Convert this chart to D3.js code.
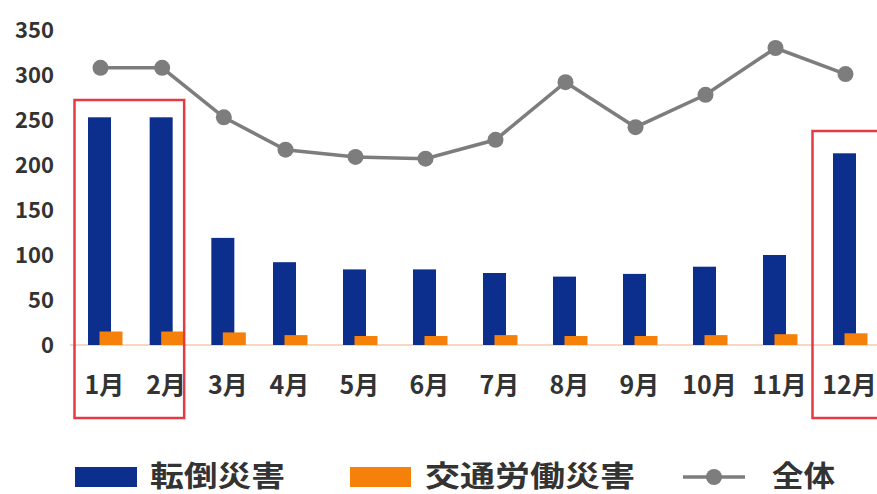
<!DOCTYPE html>
<head>
  <meta charset="utf-8">
  <title>転倒災害</title>
  <script src="https://cdn.jsdelivr.net/npm/d3@7"></script>
  <style>
    body { margin: 0; background: #fff; }
    text { font-family: "Noto Sans CJK JP", "Noto Sans", sans-serif; }
  </style>
</head>
<body>
<script>
    var months = ["1月","2月","3月","4月","5月","6月","7月","8月","9月","10月","11月","12月"];
    var tentou = [253, 253, 119, 92, 84, 84, 80, 76, 79, 87, 100, 213];
    var koutsuu = [15, 15, 14, 11, 10, 10, 11, 10, 10, 11, 12, 13];
    var zentai = [308, 308, 253, 217, 209, 207, 228, 292, 242, 278, 330, 301];
    var yTicks = [0, 50, 100, 150, 200, 250, 300, 350];
    var legendNames = ["転倒災害", "交通労働災害", "全体"];
    var boxGroups = [["1月","2月"], ["12月"]];

    var blue = "#0c2f8e", orange = "#f5800a", grey = "#7d7d7d", red = "#e33a44";

    var svg = d3.select("body").append("svg")
        .attr("width", 877).attr("height", 494);

    // the source image is slightly stretched, so month centres are piecewise
    var xi = d3.scaleLinear().domain([0, 3, 11]).range([99.5, 284.5, 844.5]);
    var x = m => xi(months.indexOf(m));
    var y = d3.scaleLinear().domain([0, 350]).range([345, 30]);

    // baseline
    svg.append("line")
        .attr("x1", 70).attr("x2", 877)
        .attr("y1", y(0)).attr("y2", y(0))
        .style("stroke", "#f4c9b0").style("stroke-width", 1.5);

    // y labels
    svg.selectAll(".ytick").data(yTicks).enter().append("text")
        .attr("x", 54).attr("y", d => y(d))
        .attr("dy", "0.36em")
        .attr("text-anchor", "end")
        .style("font-size", "22px").style("font-weight", "bold")
        .style("fill", "#333")
        .text(d => d);

    // blue bars
    svg.selectAll(".blue").data(tentou).enter().append("rect")
        .attr("x", (d, i) => x(months[i]) - 11.5)
        .attr("width", 23)
        .attr("y", d => y(d))
        .attr("height", d => y(0) - y(d))
        .style("fill", blue);

    // orange bars
    svg.selectAll(".orange").data(koutsuu).enter().append("rect")
        .attr("x", (d, i) => x(months[i]))
        .attr("width", 23)
        .attr("y", d => y(d))
        .attr("height", d => y(0) - y(d))
        .style("fill", orange);

    // total line
    var line = d3.line()
        .x((d, i) => x(months[i]) + 1)
        .y(d => y(d));
    svg.append("path").datum(zentai)
        .attr("d", line)
        .style("fill", "none").style("stroke", grey).style("stroke-width", 3.5);
    svg.selectAll(".dot").data(zentai).enter().append("circle")
        .attr("cx", (d, i) => x(months[i]) + 1)
        .attr("cy", d => y(d))
        .attr("r", 8)
        .style("fill", grey);

    // x labels
    svg.selectAll(".xlab").data(months).enter().append("text")
        .attr("x", d => x(d) + 5)
        .attr("y", 394)
        .attr("text-anchor", "middle")
        .style("font-size", "25px").style("font-weight", "bold")
        .style("fill", "#333")
        .text(d => d);

    // red highlight boxes
    svg.selectAll(".box").data(boxGroups).enter().append("rect")
        .attr("x", (d, i) => x(d[0]) - (i == 0 ? 25 : 32))
        .attr("y", (d, i) => i == 0 ? 100 : 131)
        .attr("width", (d, i) => i == 0 ? x(d[d.length - 1]) + 23 - x(d[0]) + 25 : 80)
        .attr("height", (d, i) => i == 0 ? 318 : 287)
        .style("fill", "none").style("stroke", red).style("stroke-width", 2.5);

    // legend
    var lg = svg.append("g");
    lg.append("rect").attr("x", 75).attr("y", 467).attr("width", 62).attr("height", 20).style("fill", blue);
    lg.append("rect").attr("x", 350).attr("y", 467).attr("width", 61).attr("height", 20).style("fill", orange);
    lg.append("line").attr("x1", 683).attr("x2", 745).attr("y1", 477).attr("y2", 477)
        .style("stroke", grey).style("stroke-width", 3.5);
    lg.append("circle").attr("cx", 714).attr("cy", 477).attr("r", 8).style("fill", grey);
    var lx = [150, 425, 772], lw = [135, 210, 63];
    lg.selectAll(".ltext").data(legendNames).enter().append("text")
        .attr("x", (d, i) => lx[i]).attr("y", 487)
        .attr("textLength", (d, i) => lw[i])
        .attr("lengthAdjust", "spacingAndGlyphs")
        .style("font-size", "29px").style("font-weight", "bold")
        .style("fill", "#333")
        .text(d => d);
</script>
</body>
